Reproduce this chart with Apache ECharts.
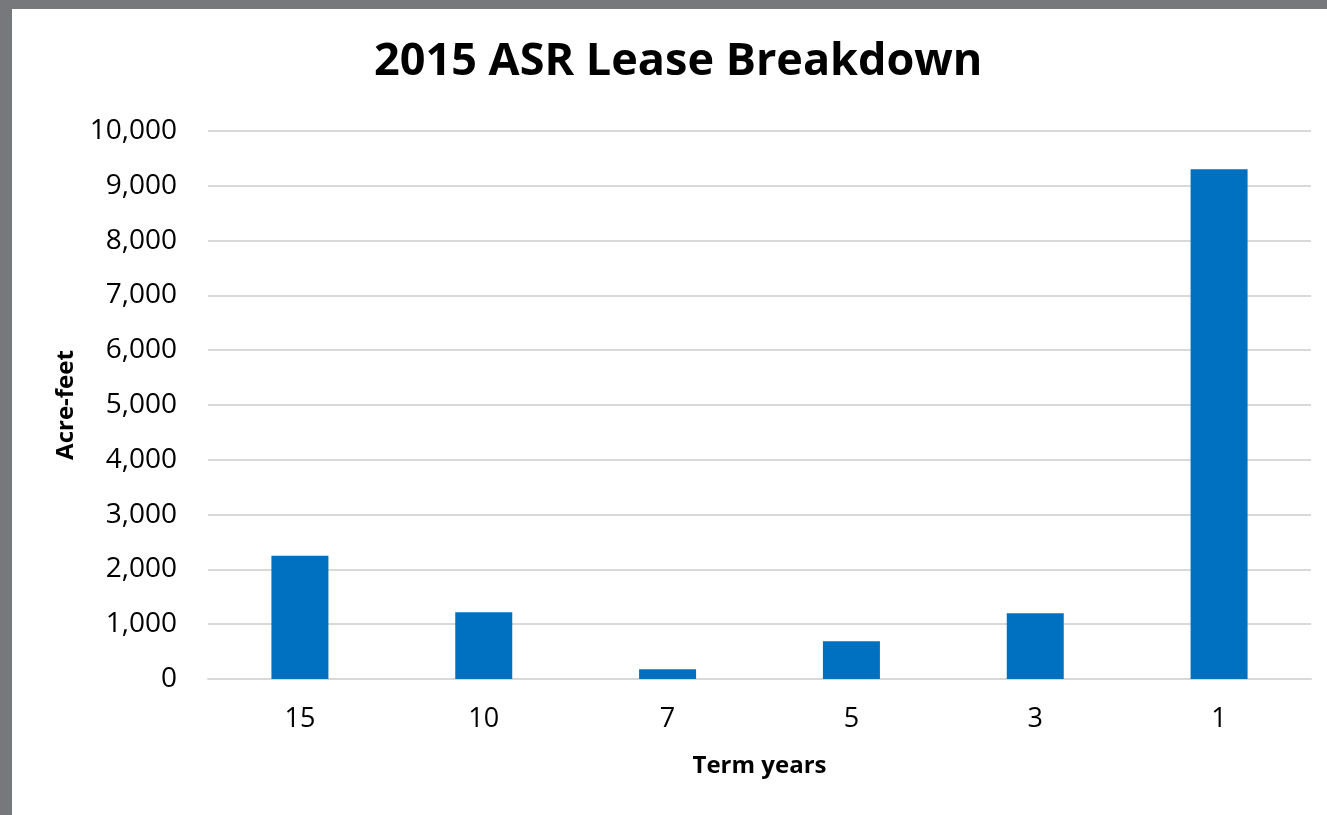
<!DOCTYPE html>
<html>
<head>
<meta charset="utf-8">
<script src="https://cdn.jsdelivr.net/npm/echarts@6/dist/echarts.min.js"></script>
<style>
  html, body { margin: 0; padding: 0; background: #77787c; width: 1327px; height: 815px; overflow: hidden; }
  #chart { position: absolute; left: 12px; top: 9px; width: 1315px; height: 806px; background: #fff; }
</style>
</head>
<body>
<div id="chart"></div>
<script>
const terms = ["15", "10", "7", "5", "3", "1"];
const acreFeet = [2250, 1220, 180, 690, 1200, 9300];
const yTicks = [0, 10000, 1000];  // min, max, step

const font = "'Open Sans', 'Liberation Sans', sans-serif";
const chart = echarts.init(document.getElementById("chart"));
chart.setOption({
  animation: false,
  title: {
    text: "2015 ASR Lease Breakdown",
    left: 357, top: 26,
    textStyle: { fontFamily: font, fontSize: 45, fontWeight: "bold", color: "#000" }
  },
  grid: { left: 196, right: 16, top: 122, bottom: 136 },
  xAxis: {
    type: "category",
    data: terms,
    name: "Term years",
    nameLocation: "middle",
    nameGap: 75,
    nameTextStyle: { fontFamily: font, fontSize: 24, fontWeight: "bold", color: "#000" },
    axisLine: { lineStyle: { color: "#d9d9d9", width: 2 } },
    axisTick: { show: false },
    axisLabel: { fontFamily: font, fontSize: 27, color: "#000", margin: 27 }
  },
  yAxis: {
    type: "value",
    min: yTicks[0], max: yTicks[1], interval: yTicks[2],
    name: "Acre-feet",
    nameLocation: "middle",
    nameGap: 130,
    nameTextStyle: { fontFamily: font, fontSize: 24, fontWeight: "bold", color: "#000" },
    axisLine: { show: false },
    axisTick: { show: false },
    splitLine: { lineStyle: { color: "#d9d9d9", width: 2 } },
    axisLabel: {
      fontFamily: font, fontSize: 28, color: "#000", margin: 31,
      formatter: v => v.toLocaleString("en-US")
    }
  },
  series: [{
    type: "bar",
    data: acreFeet,
    barWidth: "31%",
    itemStyle: { color: "#0070c0" }
  }]
});
</script>
</body>
</html>
